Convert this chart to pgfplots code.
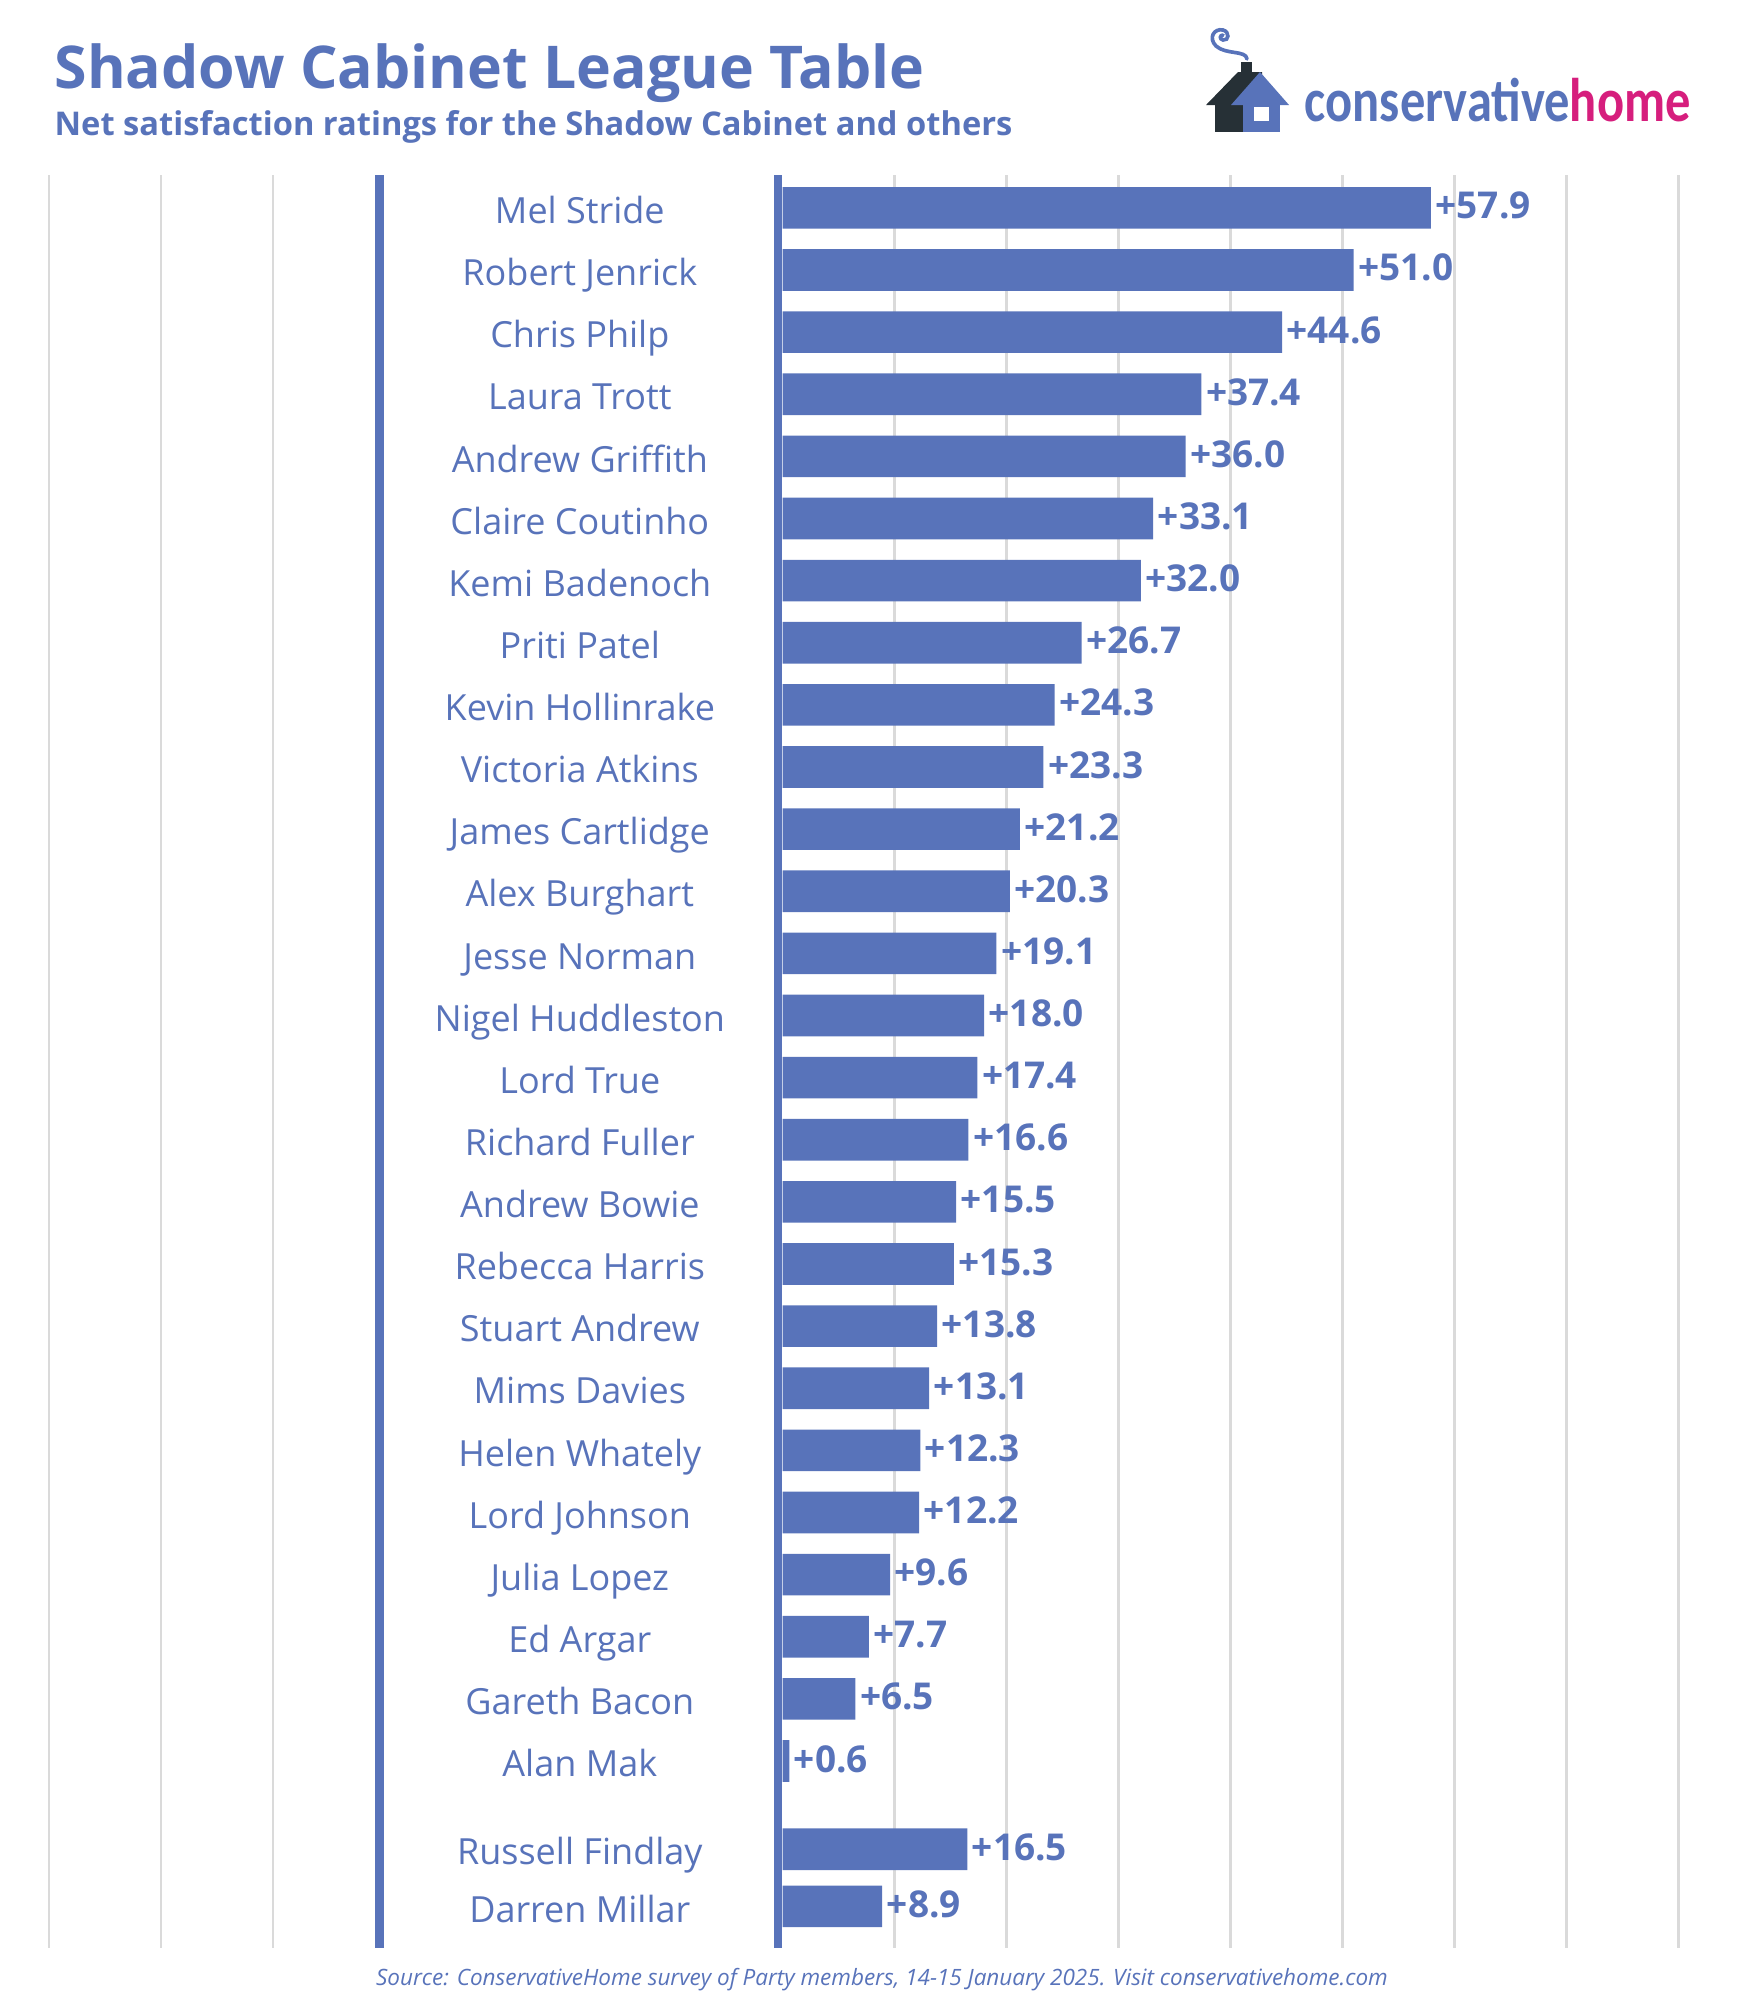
\documentclass[border=0pt]{standalone}
\usepackage{pgfplots}
\pgfplotsset{compat=1.18}
\usepackage{pgfplotstable}
\usepackage{fontspec}
\usepackage{graphicx}
\setmainfont{Open Sans}
\newfontfamily\logofont{Carlito}
\definecolor{cblue}{RGB}{88,115,186}
\definecolor{cdark}{RGB}{38,48,54}
\definecolor{cpink}{RGB}{214,30,125}
\definecolor{cgrid}{RGB}{218,218,218}

\pgfplotstableread[col sep=comma]{
pos,val,lx,name
0,57.9,-18.1,Mel Stride
1,51.0,-18.1,Robert Jenrick
2,44.6,-18.1,Chris Philp
3,37.4,-18.1,Laura Trott
4,36.0,-18.1,Andrew Griffith
5,33.1,-18.1,Claire Coutinho
6,32.0,-18.1,Kemi Badenoch
7,26.7,-18.1,Priti Patel
8,24.3,-18.1,Kevin Hollinrake
9,23.3,-18.1,Victoria Atkins
10,21.2,-18.1,James Cartlidge
11,20.3,-18.1,Alex Burghart
12,19.1,-18.1,Jesse Norman
13,18.0,-18.1,Nigel Huddleston
14,17.4,-18.1,Lord True
15,16.6,-18.1,Richard Fuller
16,15.5,-18.1,Andrew Bowie
17,15.3,-18.1,Rebecca Harris
18,13.8,-18.1,Stuart Andrew
19,13.1,-18.1,Mims Davies
20,12.3,-18.1,Helen Whately
21,12.2,-18.1,Lord Johnson
22,9.6,-18.1,Julia Lopez
23,7.7,-18.1,Ed Argar
24,6.5,-18.1,Gareth Bacon
25,0.6,-18.1,Alan Mak
26.42,16.5,-18.1,Russell Findlay
27.34,8.9,-18.1,Darren Millar
}\data

\begin{document}
\begin{tikzpicture}
\useasboundingbox (0,0) rectangle (525pt,-600pt);
\begin{axis}[
  at={(14.7pt,-584.4pt)}, anchor=south west,
  scale only axis, width=489.5pt, height=531.8pt,
  xmin=-65.5, xmax=80.2, ymin=-0.523, ymax=28.01, y dir=reverse,
  axis line style={draw=none},
  xtick={-65.5,-55.5,-45.5,10,20,30,40,50,60,70,80},
  xticklabels={},
  ytick=\empty,
  major tick length=0pt,
  xmajorgrids, grid style={cgrid, line width=0.75pt},
  extra x ticks={-36,-0.4}, extra x tick labels={},
  extra x tick style={grid style={cblue, line width=2.6pt}},
  clip=false,
]
\addplot[xbar, fill=cblue, draw=none, bar width=0.67, point meta=x,
  nodes near coords={+\pgfmathprintnumber[fixed,fixed zerofill,precision=1,assume math mode=true]{\pgfplotspointmeta}},
  nodes near coords style={anchor=base west, inner sep=1.2pt, yshift=-3.3pt, font=\bfseries\fontsize{11.1}{12}\selectfont, text=cblue}]
  table[x=val, y=pos]{\data};
\addplot[draw=none, mark=none, point meta=explicit symbolic, nodes near coords,
  nodes near coords style={anchor=base, inner sep=0pt, yshift=-4.7pt, font=\fontsize{10.8}{13}\selectfont, text=cblue}]
  table[x=lx, y=pos, meta=name]{\data};
\end{axis}
\begin{scope}[x=0.3pt,y=-0.3pt]
\node[anchor=base west, inner sep=0, font=\bfseries\fontsize{17.7}{22}\selectfont, text=cblue] at (54,88) {Shadow Cabinet League Table};
\node[anchor=base west, inner sep=0, font=\bfseries\fontsize{9.8}{11}\selectfont, text=cblue] at (54,135) {Net satisfaction ratings for the Shadow Cabinet and others};
% logo
\fill[cdark] (1206,105) -- (1238,72) -- (1262,72) -- (1262,105) -- cycle;
\fill[cdark] (1240.5,62) rectangle (1251.5,80);
\fill[cdark] (1215,104) rectangle (1244,132);
\fill[cblue] (1231,105) -- (1260,72) -- (1289,105) -- cycle;
\fill[cblue] (1243,104) rectangle (1280,132);
\fill[white] (1254,107) rectangle (1269,121);
\draw[cblue, line width=1.1pt, line cap=round] (1247,59) .. controls (1246,50) and (1226,55) .. (1216,46) .. controls (1208,38) and (1214,28) .. (1223,30) .. controls (1230,32) and (1229,41) .. (1223,40) .. controls (1219,39) and (1220,35) .. (1223,35);
\node[anchor=base west, inner sep=0] at (1304,121.7) {\resizebox{115.8pt}{\height}{\logofont\bfseries\fontsize{18.5}{20}\selectfont\textcolor{cblue}{conservative}\textcolor{cpink}{home}}};
\node[anchor=base, inner sep=0, font=\itshape\fontsize{6.75}{8}\selectfont, text=cblue] at (882,1985) {Source: ConservativeHome survey of Party members, 14-15 January 2025. Visit conservativehome.com};
\end{scope}
\end{tikzpicture}
\end{document}
